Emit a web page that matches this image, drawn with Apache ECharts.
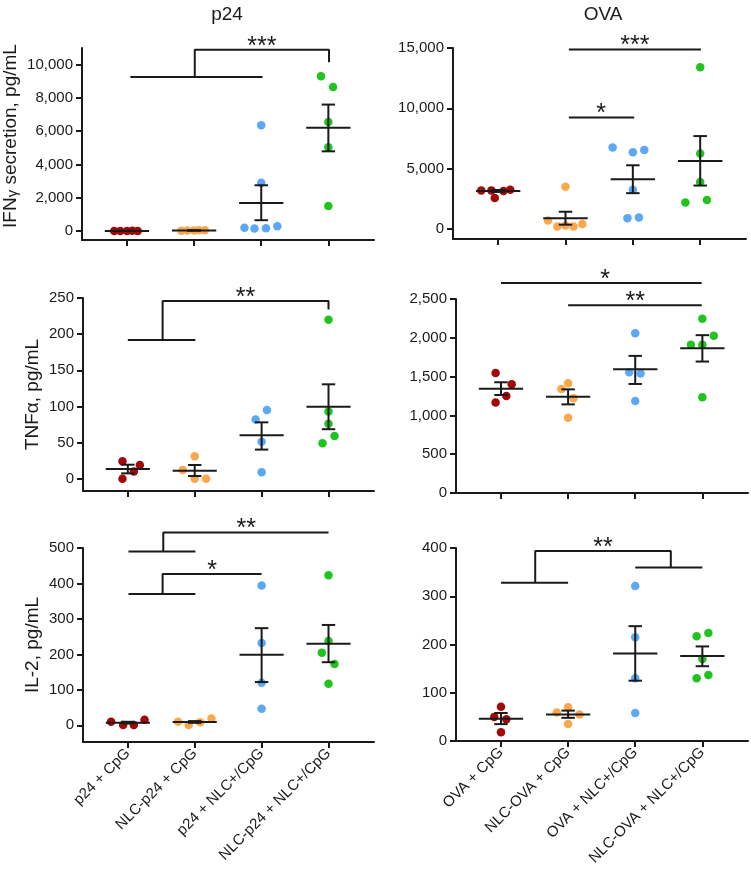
<!DOCTYPE html>
<html><head><meta charset="utf-8">
<script src="https://cdn.jsdelivr.net/npm/echarts@6/dist/echarts.min.js"></script>
<style>html,body{margin:0;padding:0;background:#fff}#c{width:751px;height:882px}</style>
</head><body><div id="c"></div><script>
// ---------- categories ----------
const p24Groups = ['p24 + CpG', 'NLC-p24 + CpG', 'p24 + NLC+/CpG', 'NLC-p24 + NLC+/CpG'];
const ovaGroups = ['OVA + CpG', 'NLC-OVA + CpG', 'OVA + NLC+/CpG', 'NLC-OVA + NLC+/CpG'];
const columnTitles = ['p24', 'OVA'];
const rowTitles = ['IFN{s|γ} secretion, pg/mL', 'TNFα, pg/mL', 'IL-2, pg/mL'];
const groupColors = ['#a30808', '#fca84a', '#5ca8f5', '#1fc41f'];

// ---------- IFNγ, p24 ----------
const ifnP24Values = [[0, 5, 0, 10, 5], [20, 35, 25, 45, 50], [6350, 2900, 200, 150, 170, 280], [9300, 8650, 6550, 5030, 1500]];
const ifnP24Jitter = [[-0.19, -0.1, 0, 0.08, 0.16], [-0.19, -0.1, 0, 0.07, 0.16], [0, 0, -0.25, -0.1, 0.07, 0.24], [-0.11, 0.07, 0, 0, 0]];
const ifnP24Mean = [5, 35, 1690, 6200];
const ifnP24Low = [0, 20, 650, 4790];
const ifnP24High = [15, 50, 2750, 7600];
const ifnP24Ticks = [0, 2000, 4000, 6000, 8000, 10000];
const ifnP24Brackets = [[[0.05, 9250], [2.02, 9250]], [[1.01, 9250], [1.01, 10900], [3.01, 10900], [3.01, 10150]]];
const ifnP24Stars = [[2.01, 10900, '***']];

// ---------- IFNγ, OVA ----------
const ifnOvaValues = [[3200, 3200, 3150, 3250, 2560], [3500, 700, 200, 280, 200, 420], [6750, 6350, 6550, 3250, 900, 950], [13400, 6250, 3900, 2200, 2400]];
const ifnOvaJitter = [[-0.25, -0.1, 0.08, 0.18, -0.05], [0, -0.26, -0.12, 0, 0.12, 0.25], [-0.3, 0, 0.17, 0, -0.08, 0.09], [0, 0, 0, -0.22, 0.1]];
const ifnOvaMean = [3150, 900, 4125, 5640];
const ifnOvaLow = [3070, 360, 2970, 3600];
const ifnOvaHigh = [3230, 1430, 5280, 7700];
const ifnOvaTicks = [0, 5000, 10000, 15000];
const ifnOvaBrackets = [[[1.05, 14880], [3.01, 14880]], [[1.05, 9240], [2.02, 9240]]];
const ifnOvaStars = [[2.03, 14880, '***'], [1.53, 9240, '*']];

// ---------- TNFα, p24 ----------
const tnfP24Values = [[24, 19, 10, 0], [31, 12, 0, 0], [82, 95, 51, 9], [220, 93, 76, 59, 49]];
const tnfP24Jitter = [[-0.08, 0.18, 0.09, -0.08], [0, -0.18, 0, 0.17], [-0.09, 0.08, 0, 0], [0, 0, 0, 0.09, -0.09]];
const tnfP24Mean = [13.4, 11, 60, 99.5];
const tnfP24Low = [7.4, 3.7, 40.3, 68.5];
const tnfP24High = [19.4, 19, 78, 130.6];
const tnfP24Ticks = [0, 50, 100, 150, 200, 250];
const tnfP24Brackets = [[[0, 192], [1.01, 192]], [[0.52, 192], [0.52, 246], [3.0, 246], [3.0, 234]]];
const tnfP24Stars = [[1.76, 246, '**']];

// ---------- TNFα, OVA ----------
const tnfOvaValues = [[1545, 1400, 1250, 1165], [1415, 1340, 1220, 970], [2060, 1555, 1540, 1185], [2245, 2025, 1910, 1910, 1235]];
const tnfOvaJitter = [[-0.08, 0.16, 0.08, -0.08], [0, -0.1, 0.08, 0], [0, -0.09, 0.08, 0], [0, 0.17, -0.17, 0, 0]];
const tnfOvaMean = [1345, 1241, 1595, 1866];
const tnfOvaLow = [1263, 1142, 1405, 1694];
const tnfOvaHigh = [1427, 1336, 1767, 2034];
const tnfOvaTicks = [0, 500, 1000, 1500, 2000, 2500];
const tnfOvaBrackets = [[[0, 2707], [2.99, 2707]], [[1.0, 2418], [2.99, 2418]]];
const tnfOvaStars = [[1.55, 2707, '*'], [2.0, 2418, '**']];

// ---------- IL-2, p24 ----------
const il2P24Values = [[10, 1, 1, 16], [10, 1, 9, 19], [394, 232, 120, 47], [423, 238, 205, 173, 117]];
const il2P24Jitter = [[-0.25, -0.07, 0.09, 0.25], [-0.25, -0.09, 0.08, 0.25], [0, 0, 0, 0], [0, 0, -0.1, 0.09, 0]];
const il2P24Mean = [7.5, 9.5, 199, 230];
const il2P24Low = [5, 7, 122, 178];
const il2P24High = [10, 12, 274, 283];
const il2P24Ticks = [0, 100, 200, 300, 400, 500];
const il2P24Brackets = [[[0.01, 490], [1.01, 490]], [[0.53, 490], [0.53, 544], [3.0, 544]], [[0.01, 370], [1.01, 370]], [[0.52, 370], [0.52, 427], [2.0, 427]]];
const il2P24Stars = [[1.77, 544, '**'], [1.26, 427, '*']];

// ---------- IL-2, OVA ----------
const il2OvaValues = [[71, 50, 45, 18], [70, 59, 55, 35], [321, 215, 130, 58], [217, 224, 170, 130, 137]];
const il2OvaJitter = [[0, -0.1, 0.08, 0], [0, -0.17, 0.17, 0], [0, 0, 0, 0], [-0.085, 0.09, 0, -0.085, 0.09]];
const il2OvaMean = [46, 55, 181.5, 176];
const il2OvaLow = [35, 48, 125, 155];
const il2OvaHigh = [58, 63, 238, 196];
const il2OvaTicks = [0, 100, 200, 300, 400];
const il2OvaBrackets = [[[0, 328], [1.0, 328]], [[0.51, 328], [0.51, 394], [2.53, 394], [2.53, 359.5]], [[2.0, 359.5], [3.0, 359.5]]];
const il2OvaStars = [[1.52, 394, '**']];

// ---------- panels ----------
const panels = [
  {values: ifnP24Values, jitter: ifnP24Jitter, mean: ifnP24Mean, low: ifnP24Low, high: ifnP24High, ticks: ifnP24Ticks, brackets: ifnP24Brackets, stars: ifnP24Stars, cats: p24Groups, yName: rowTitles[0], min: -540, max: 11000, showCats: false},
  {values: ifnOvaValues, jitter: ifnOvaJitter, mean: ifnOvaMean, low: ifnOvaLow, high: ifnOvaHigh, ticks: ifnOvaTicks, brackets: ifnOvaBrackets, stars: ifnOvaStars, cats: ovaGroups, yName: '', min: -830, max: 15000, showCats: false},
  {values: tnfP24Values, jitter: tnfP24Jitter, mean: tnfP24Mean, low: tnfP24Low, high: tnfP24High, ticks: tnfP24Ticks, brackets: tnfP24Brackets, stars: tnfP24Stars, cats: p24Groups, yName: rowTitles[1], min: -17, max: 250, showCats: false},
  {values: tnfOvaValues, jitter: tnfOvaJitter, mean: tnfOvaMean, low: tnfOvaLow, high: tnfOvaHigh, ticks: tnfOvaTicks, brackets: tnfOvaBrackets, stars: tnfOvaStars, cats: ovaGroups, yName: '', min: 0, max: 2500, showCats: false},
  {values: il2P24Values, jitter: il2P24Jitter, mean: il2P24Mean, low: il2P24Low, high: il2P24High, ticks: il2P24Ticks, brackets: il2P24Brackets, stars: il2P24Stars, cats: p24Groups, yName: rowTitles[2], min: -47, max: 500, showCats: true},
  {values: il2OvaValues, jitter: il2OvaJitter, mean: il2OvaMean, low: il2OvaLow, high: il2OvaHigh, ticks: il2OvaTicks, brackets: il2OvaBrackets, stars: il2OvaStars, cats: ovaGroups, yName: '', min: 0, max: 400, showCats: true}
];

// layout (pixels)
const layouts = [
  {left: 82, top: 48, width: 292, height: 192, nameGap: 62, namePad: [0, 0, 0, 16]},
  {left: 453, top: 48, width: 293, height: 191, nameGap: 50, namePad: 0},
  {left: 83, top: 298, width: 291, height: 193, nameGap: 41, namePad: 0},
  {left: 456, top: 299, width: 292, height: 194, nameGap: 50, namePad: 0},
  {left: 83, top: 548, width: 291, height: 194, nameGap: 41, namePad: 0},
  {left: 456, top: 548, width: 292, height: 193, nameGap: 50, namePad: 0}
];

const FONT = '"Liberation Sans", Arial, Helvetica, sans-serif';
const INK = '#1a1a1a';
const catIdx = [0, 1, 2, 3];

const grid = [], xAxis = [], yAxis = [], series = [];
panels.forEach((p, k) => {
  const L = layouts[k];
  grid.push({left: L.left, top: L.top, width: L.width, height: L.height, containLabel: false, outerBoundsMode: 'none'});
  xAxis.push({
    type: 'value', gridIndex: k, min: -0.67, max: 3.68,
    axisLine: {show: true, onZero: false, lineStyle: {color: INK, width: 2}},
    axisTick: {show: true, customValues: catIdx, length: 6, lineStyle: {color: INK, width: 2}},
    axisLabel: {show: p.showCats, customValues: catIdx, rotate: 45, margin: 9, fontSize: 15, fontFamily: FONT, color: INK,
      formatter: v => p.cats[Math.round(v)] || ''},
    splitLine: {show: false}
  });
  yAxis.push({
    type: 'value', gridIndex: k, min: p.min, max: p.max,
    name: p.yName, nameLocation: 'middle', nameGap: L.nameGap, nameRotate: 90,
    nameTextStyle: {fontSize: 19, fontFamily: FONT, color: INK, padding: L.namePad,
      rich: {s: {fontSize: 15, fontFamily: FONT, color: INK, verticalAlign: 'bottom'}}},
    axisLine: {show: true, onZero: false, lineStyle: {color: INK, width: 2}},
    axisTick: {show: true, customValues: p.ticks, length: 6, lineStyle: {color: INK, width: 2}},
    axisLabel: {show: true, customValues: p.ticks, margin: 9, fontSize: 15, fontFamily: FONT, color: INK,
      formatter: v => Number(v).toLocaleString('en-US')},
    splitLine: {show: false}
  });
  // dots
  p.values.forEach((vals, g) => {
    series.push({
      type: 'scatter', xAxisIndex: k, yAxisIndex: k, symbolSize: 8.5, z: 2, silent: true,
      itemStyle: {color: groupColors[g], opacity: 1},
      data: vals.map((v, i) => [g + p.jitter[g][i], v])
    });
  });
  // mean ± SEM
  series.push({
    type: 'custom', xAxisIndex: k, yAxisIndex: k, z: 5, silent: true,
    data: catIdx.map(g => [g, p.mean[g], p.low[g], p.high[g]]),
    renderItem: (params, api) => {
      const g = api.value(0);
      const c = api.coord([g, api.value(1)]);
      const lo = api.coord([g, api.value(2)]);
      const hi = api.coord([g, api.value(3)]);
      const unit = api.size([1, 0])[0];
      const half = unit * 0.33, cap = unit * 0.1;
      const st = {stroke: INK, lineWidth: 2};
      return {type: 'group', children: [
        {type: 'line', shape: {x1: c[0] - half, y1: c[1], x2: c[0] + half, y2: c[1]}, style: st},
        {type: 'line', shape: {x1: c[0], y1: lo[1], x2: c[0], y2: hi[1]}, style: st},
        {type: 'line', shape: {x1: c[0] - cap, y1: lo[1], x2: c[0] + cap, y2: lo[1]}, style: st},
        {type: 'line', shape: {x1: c[0] - cap, y1: hi[1], x2: c[0] + cap, y2: hi[1]}, style: st}
      ]};
    }
  });
  // significance brackets
  p.brackets.forEach(b => {
    series.push({
      type: 'line', xAxisIndex: k, yAxisIndex: k, data: b, symbol: 'none', clip: false, silent: true, z: 6,
      lineStyle: {color: INK, width: 2}, animation: false
    });
  });
  // stars
  series.push({
    type: 'custom', xAxisIndex: k, yAxisIndex: k, z: 7, silent: true, clip: false,
    data: p.stars.map(s => [s[0], s[1]]),
    renderItem: (params, api) => {
      const c = api.coord([api.value(0), api.value(1)]);
      return {type: 'text', x: c[0], y: c[1] - 3, style: {text: p.stars[params.dataIndex][2], fontSize: 25, fontFamily: FONT, fill: INK, textAlign: 'center', textVerticalAlign: 'middle'}};
    }
  });
});

const title = [
  {text: columnTitles[0], left: 222, top: 0, textAlign: 'center', textStyle: {fontSize: 19, fontWeight: 'normal', fontFamily: FONT, color: INK}},
  {text: columnTitles[1], left: 598, top: 0, textAlign: 'center', textStyle: {fontSize: 19, fontWeight: 'normal', fontFamily: FONT, color: INK}}
];

const chart = echarts.init(document.getElementById('c'), null, {renderer: 'canvas'});
chart.setOption({animation: false, backgroundColor: '#fff', title, grid, xAxis, yAxis, series});
</script></body></html>
